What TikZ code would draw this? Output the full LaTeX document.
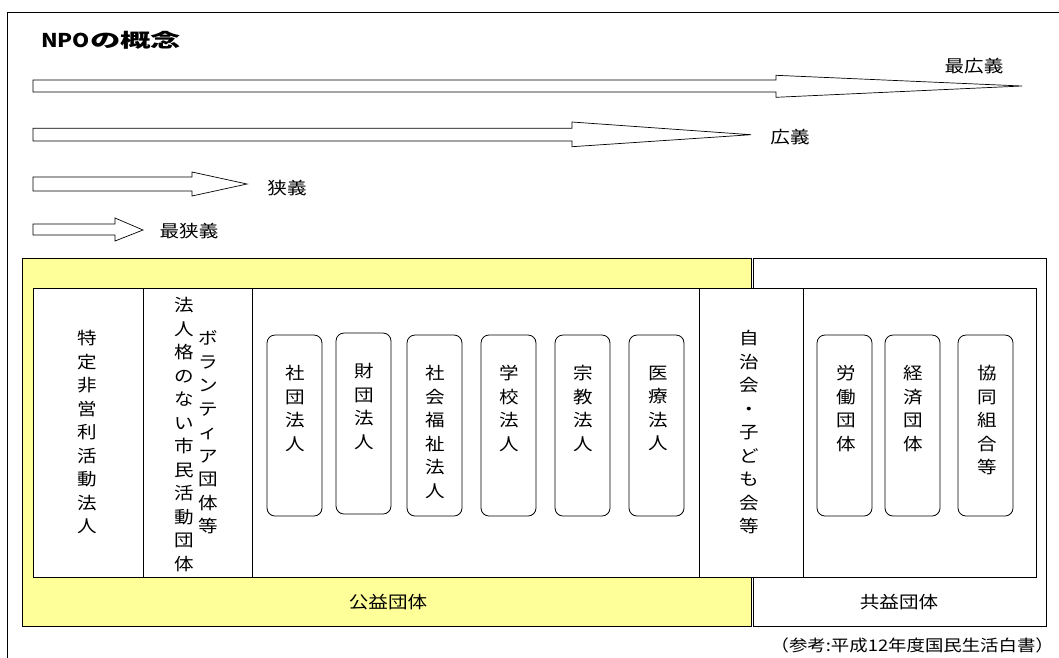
\documentclass[tikz,border=0pt]{standalone}
\usepackage{fontspec}
\usepackage{graphicx}
\newfontfamily\jp[FakeStretch=1.15]{Noto Sans CJK JP}
\definecolor{koueki}{HTML}{FFFF99}
\tikzset{
  panel/.style={draw=black, line width=1pt, inner sep=0pt, anchor=north west},
  cell/.style={draw=black, line width=1.2pt, inner sep=0pt, anchor=north west, fill=white},
  pill/.style={draw=black, line width=0.8pt, rounded corners=8pt, minimum width=55pt, minimum height=181pt, inner sep=0pt, fill=white},
  vtext/.style={font=\jp\fontsize{17}{23.5}\selectfont, align=center, inner sep=0pt},
  lbl/.style={font=\jp\fontsize{17}{20}\selectfont, inner sep=0pt},
  fatarrow/.style={draw=black, line width=0.7pt, fill=white, line join=miter},
}
\begin{document}
\begin{tikzpicture}[x=1pt,y=-1pt]
\useasboundingbox (0,0) rectangle (1059,657);
\fill[white] (0,0) rectangle (1059,657);
% outer frame
\draw[line width=0.9pt] (7,670) -- (7,12) -- (1070,12);
% title
\node[anchor=west, inner sep=0pt, font=\jp\bfseries\fontsize{19}{19}\selectfont] (title) at (41,40) {NPO\scalebox{1.39}[1]{の概念}};
% arrows
\draw[fatarrow] (33,80) -- (776,80) -- (776,75.3) -- (1022,86) -- (776,97.3) -- (776,92) -- (33,92) -- cycle;
\draw[fatarrow] (33,128.3) -- (572,128.3) -- (572,122) -- (751,134.7) -- (572,146.7) -- (572,141) -- (33,141) -- cycle;
\draw[fatarrow] (33,177) -- (192,177) -- (192,172) -- (247,184) -- (192,196) -- (192,191) -- (33,191) -- cycle;
\draw[fatarrow] (33,224) -- (115,224) -- (115,218) -- (143,230) -- (115,241) -- (115,235) -- (33,235) -- cycle;
\node[lbl] (l1) at (974,66) {最広義};
\node[lbl] (l2) at (790,137) {広義};
\node[lbl] (l3) at (287,188.5) {狭義};
\node[lbl] (l4) at (189,231) {最狭義};
% panels
\node[panel, fill=koueki, minimum width=729pt, minimum height=368pt] (yel) at (22,258) {};
\node[panel, fill=white, minimum width=293pt, minimum height=368pt] (wht) at (753,258) {};
% columns
\node[cell, minimum width=110pt, minimum height=289pt] (c1) at (33,288) {};
\node[cell, minimum width=109pt, minimum height=289pt] (c2) at (143,288) {};
\node[cell, minimum width=447pt, minimum height=289pt] (c3) at (252,288) {};
\node[cell, minimum width=104pt, minimum height=289pt] (c4) at (699,288) {};
\node[cell, minimum width=233pt, minimum height=289pt] (c5) at (803,288) {};
% column texts
\node[vtext] (t1) at (87,432) {特\\定\\非\\営\\利\\活\\動\\法\\人};
\node[vtext] (t2) at (184,434.5) {法\\人\\格\\の\\な\\い\\市\\民\\活\\動\\団\\体};
\node[vtext] (t3) at (208,432.5) {ボ\\ラ\\ン\\テ\\ィ\\ア\\団\\体\\等};
\node[vtext] (t4) at (749,432.5) {自\\治\\会\\・\\子\\ど\\も\\会\\等};
% pills
\node[pill] (p1) at (294.5,425.5) {};
\node[pill] (p2) at (363.5,423.5) {};
\node[pill] (p3) at (434.5,425.5) {};
\node[pill] (p4) at (508.5,425.5) {};
\node[pill] (p5) at (582.5,425.5) {};
\node[pill] (p6) at (656.5,425.5) {};
\node[pill] (p7) at (844.5,425.5) {};
\node[pill] (p8) at (912.5,425.5) {};
\node[pill] (p9) at (985.5,425.5) {};
\node[vtext] (s1) at (295,408.5) {社\\団\\法\\人};
\node[vtext] (s2) at (364,406.5) {財\\団\\法\\人};
\node[vtext] (s3) at (435,432) {社\\会\\福\\祉\\法\\人};
\node[vtext] (s4) at (509,408.5) {学\\校\\法\\人};
\node[vtext] (s5) at (583,408.5) {宗\\教\\法\\人};
\node[vtext] (s6) at (658,408.5) {医\\療\\法\\人};
\node[vtext] (s7) at (846,408.5) {労\\働\\団\\体};
\node[vtext] (s8) at (913,408.5) {経\\済\\団\\体};
\node[vtext] (s9) at (987,420.5) {協\\同\\組\\合\\等};
% bottom labels
\node[lbl] (b1) at (388,602) {公益団体};
\node[lbl] (b2) at (899,602) {共益団体};
\node[lbl, anchor=east, font=\jp\fontsize{16}{18}\selectfont] (src) at (1054,645.5) {（参考:平成12年度国民生活白書）};
\end{tikzpicture}
\end{document}
